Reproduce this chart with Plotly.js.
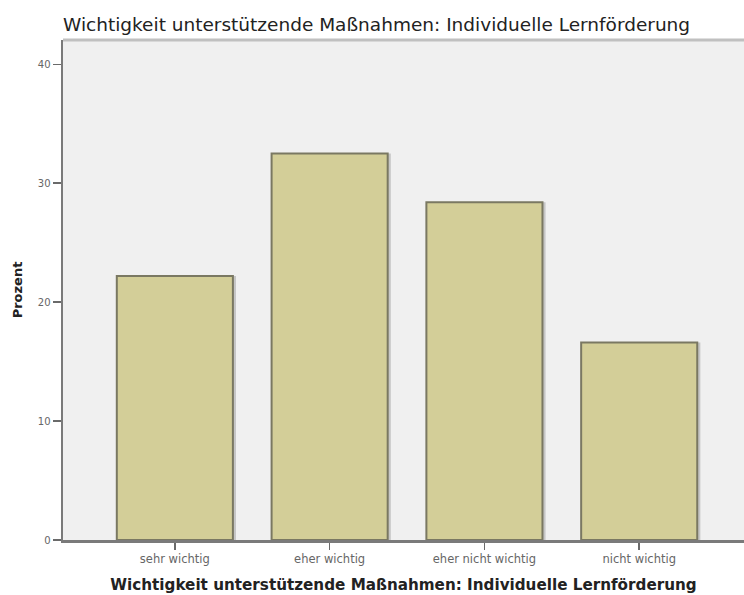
<!DOCTYPE html>
<html>
<head>
<meta charset="utf-8">
<script src="https://cdn.plot.ly/plotly-3.0.1.min.js"></script>
<style>
  html, body { margin: 0; padding: 0; background: #fff; }
  #graphDiv { width: 744px; height: 595px; }
</style>
</head>
<body>
<div id="graphDiv"></div>
<script>
var categories = ['sehr wichtig', 'eher wichtig', 'eher nicht wichtig', 'nicht wichtig'];
var percent = [22.2, 32.5, 28.4, 16.6];
var yTicks = [0, 10, 20, 30, 40];

var titleText = 'Wichtigkeit unterstützende Maßnahmen: Individuelle Lernförderung';

// grey drop shadow on the right side of each bar
var shadow = {
    x: categories,
    y: percent,
    type: 'bar',
    width: 0.75,
    offset: -0.355,
    marker: { color: '#c6c6c6', line: { width: 0 } },
    hoverinfo: 'skip',
    showlegend: false
};

var bars = {
    x: categories,
    y: percent,
    type: 'bar',
    width: 0.75,
    offset: -0.375,
    marker: { color: '#d3ce98', line: { color: '#7a7862', width: 2 } },
    showlegend: false
};

var data = [shadow, bars];

var layout = {
    width: 744,
    height: 595,
    margin: { l: 63, r: 0, t: 40, b: 55 },
    paper_bgcolor: '#ffffff',
    plot_bgcolor: '#f0f0f0',
    barmode: 'overlay',
    font: { family: 'DejaVu Sans, Verdana, sans-serif', color: '#333' },
    title: {
        text: titleText,
        font: { size: 18.5, color: '#222' },
        xref: 'paper', x: 0, xanchor: 'left',
        yref: 'container', y: 0.958, yanchor: 'middle'
    },
    xaxis: {
        type: 'category',
        range: [-0.7226, 3.677],
        showgrid: false,
        zeroline: false,
        showline: true,
        linecolor: '#7a7a7a',
        linewidth: 2.5,
        ticks: 'outside',
        ticklen: 7,
        tickwidth: 1.5,
        tickcolor: '#6a6a6a',
        tickfont: { size: 11.5, color: '#666' },
        title: {
            text: '<b>' + titleText + '</b>',
            font: { size: 15.2, color: '#222' },
            standoff: 14
        }
    },
    yaxis: {
        range: [0, 42.04],
        tickvals: yTicks,
        showgrid: false,
        zeroline: false,
        showline: true,
        linecolor: '#7a7a7a',
        linewidth: 2.5,
        ticks: 'outside',
        ticklen: 8,
        tickwidth: 1.5,
        tickcolor: '#6a6a6a',
        tickfont: { size: 10, color: '#666' },
        title: {
            text: '<b>Prozent</b>',
            font: { size: 13, color: '#222' },
            standoff: 12
        }
    },
    shapes: [{
        type: 'line', xref: 'paper', yref: 'paper',
        x0: 0, x1: 1, y0: 1, y1: 1,
        line: { color: '#c0c0c0', width: 3 }
    }]
};

Plotly.newPlot('graphDiv', data, layout, { displayModeBar: false, staticPlot: true });
</script>
</body>
</html>
